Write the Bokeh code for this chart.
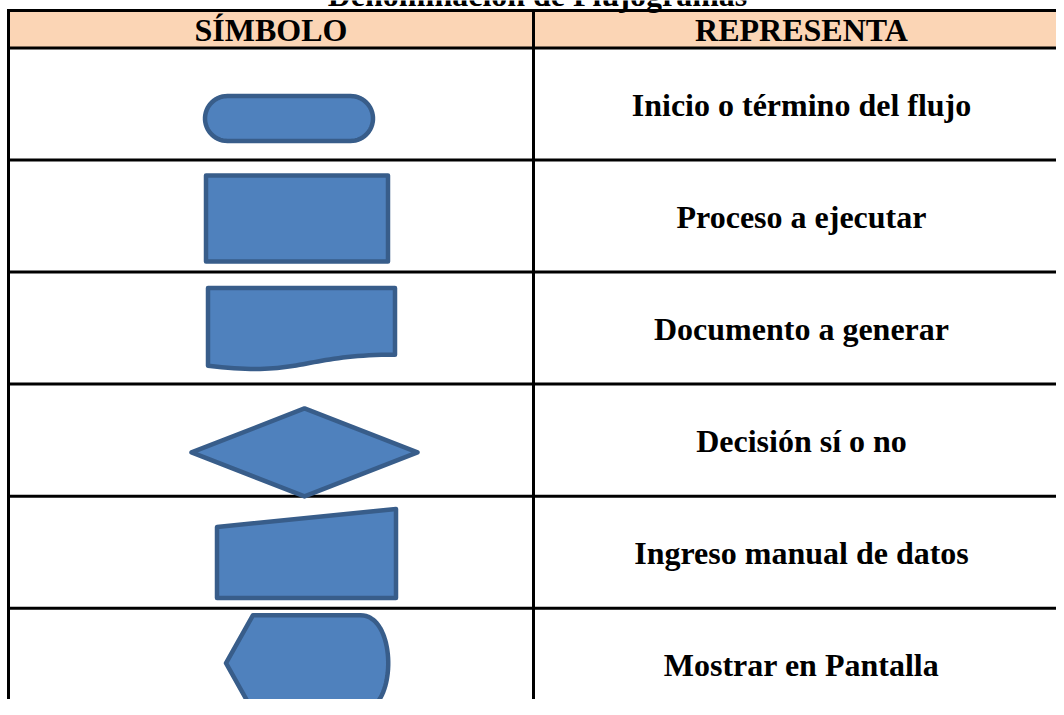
import numpy as np
from bokeh.plotting import figure
from bokeh.models import Range1d
from bokeh.core.properties import value
from bokeh.embed import file_html
from bokeh.resources import INLINE

# ---------------- data ----------------
title = "Denominación de Flujogramas"
header_labels = ["SÍMBOLO", "REPRESENTA"]
symbol_kinds = ["terminador", "proceso", "documento", "decision", "entrada_manual", "pantalla"]
meanings = [
    "Inicio o término del flujo",
    "Proceso a ejecutar",
    "Documento a generar",
    "Decisión sí o no",
    "Ingreso manual de datos",
    "Mostrar en Pantalla",
]

# ---------------- layout / style ----------------
W, H = 1056, 699
TABLE_LEFT, TABLE_RIGHT = 8, 1070
COL_DIV = 533
TABLE_TOP, HEADER_BOTTOM = 10, 47.5
ROW_H = 112.04
FONT = "Liberation Serif"
HEADER_FILL = "#FBD5B5"
SHAPE_FILL = "#4F81BD"
SHAPE_LINE = "#385D8A"
TEXT_DY = -11   # compensates the svg backend's baseline placement

p = figure(width=W, height=H, output_backend="svg", toolbar_location=None,
           x_range=Range1d(0, W), y_range=Range1d(H, 0),
           min_border=0, outline_line_color=None, background_fill_color="white")
p.xaxis.visible = False
p.yaxis.visible = False
p.grid.visible = False

n = len(meanings)
row_tops = [HEADER_BOTTOM + i * ROW_H for i in range(n)]
row_centers = [t + ROW_H / 2 for t in row_tops]

# header fill
p.quad(left=TABLE_LEFT, right=TABLE_RIGHT, top=TABLE_TOP, bottom=HEADER_BOTTOM,
       fill_color=HEADER_FILL, line_color=None)

# table lines
h_lines_y = [TABLE_TOP, HEADER_BOTTOM] + [t + ROW_H for t in row_tops[:-1]]
p.segment(x0=[TABLE_LEFT] * len(h_lines_y), x1=[TABLE_RIGHT] * len(h_lines_y),
          y0=h_lines_y, y1=h_lines_y, line_color="black", line_width=3)
bottom = row_tops[-1] + ROW_H
p.segment(x0=[TABLE_LEFT, COL_DIV], x1=[TABLE_LEFT, COL_DIV],
          y0=[TABLE_TOP - 1.5] * 2, y1=[bottom] * 2, line_color="black", line_width=3)


# ---------------- shape geometry ----------------
def bezier(p0, p1, p2, p3, k=40):
    t = np.linspace(0, 1, k)[:, None]
    pts = ((1 - t) ** 3) * np.array(p0) + 3 * ((1 - t) ** 2) * t * np.array(p1) \
        + 3 * (1 - t) * t ** 2 * np.array(p2) + t ** 3 * np.array(p3)
    return pts[:, 0].tolist(), pts[:, 1].tolist()


def terminator(top):
    cx, cy, w, h = 288.5, top + 70.5, 168, 45
    r = h / 2
    a1 = np.linspace(-np.pi / 2, np.pi / 2, 30)
    a2 = np.linspace(np.pi / 2, 3 * np.pi / 2, 30)
    xs = list(cx + w / 2 - r + r * np.cos(a1)) + list(cx - w / 2 + r + r * np.cos(a2))
    ys = list(cy + r * np.sin(a1)) + list(cy + r * np.sin(a2))
    return xs, ys


def proceso(top):
    l, r, t, b = 205.5, 387.5, top + 15.5, top + 101.5
    return [l, r, r, l], [t, t, b, b]


def documento(top):
    l, r, t = 207.5, 394.5, top + 15.8
    h = 83.3
    w = r - l
    yr, yl = t + 0.802 * h, t + 0.934 * h
    bx, by = bezier((r, yr), (l + 0.5 * w, yr), (l + 0.5 * w, t + 1.072 * h), (l, yl))
    return [l, r] + bx, [t, t] + by


def decision(top):
    cx, cy, hw, hh = 304, top + 68.3, 113, 44
    return [cx - hw, cx, cx + hw, cx], [cy, cy - hh, cy, cy + hh]


def entrada_manual(top):
    l, r = 216.5, 395.5
    tl, tr, b = top + 30.8, top + 12.8, top + 101.8
    return [l, r, r, l], [tl, tr, b, b]


def pantalla(top):
    lx, cy = 225.5, top + 55
    t, b = top + 7, top + 103
    vx, ax, cx = 252.5, 360, 397
    bx, by = bezier((ax, t), (cx, t), (cx, b), (ax, b))
    return [lx, vx] + bx + [vx], [cy, t] + by + [b]


builders = {
    "terminador": terminator, "proceso": proceso, "documento": documento,
    "decision": decision, "entrada_manual": entrada_manual, "pantalla": pantalla,
}

xs, ys = [], []
for kind, top in zip(symbol_kinds, row_tops):
    sx, sy = builders[kind](top)
    xs.append(sx)
    ys.append(sy)

p.patches(xs=xs, ys=ys, fill_color=SHAPE_FILL, line_color=SHAPE_LINE,
          line_width=4.5, line_join="round")

# ---------------- texts ----------------
text_kw = dict(text_font=value(FONT), text_font_style="bold", text_color="black",
               text_align="center", text_baseline="alphabetic")

p.text(x=[(TABLE_LEFT + COL_DIV) / 2, 801], y=[40 + TEXT_DY] * 2, text=header_labels,
       text_font_size="32px", **text_kw)
p.text(x=[801] * n, y=[c + 11.5 + TEXT_DY for c in row_centers], text=meanings,
       text_font_size="32px", **text_kw)
p.text(x=[537], y=[5 + TEXT_DY], text=[title], text_font_size="32px", **text_kw)

open("out.html", "w").write(file_html(p, INLINE))
